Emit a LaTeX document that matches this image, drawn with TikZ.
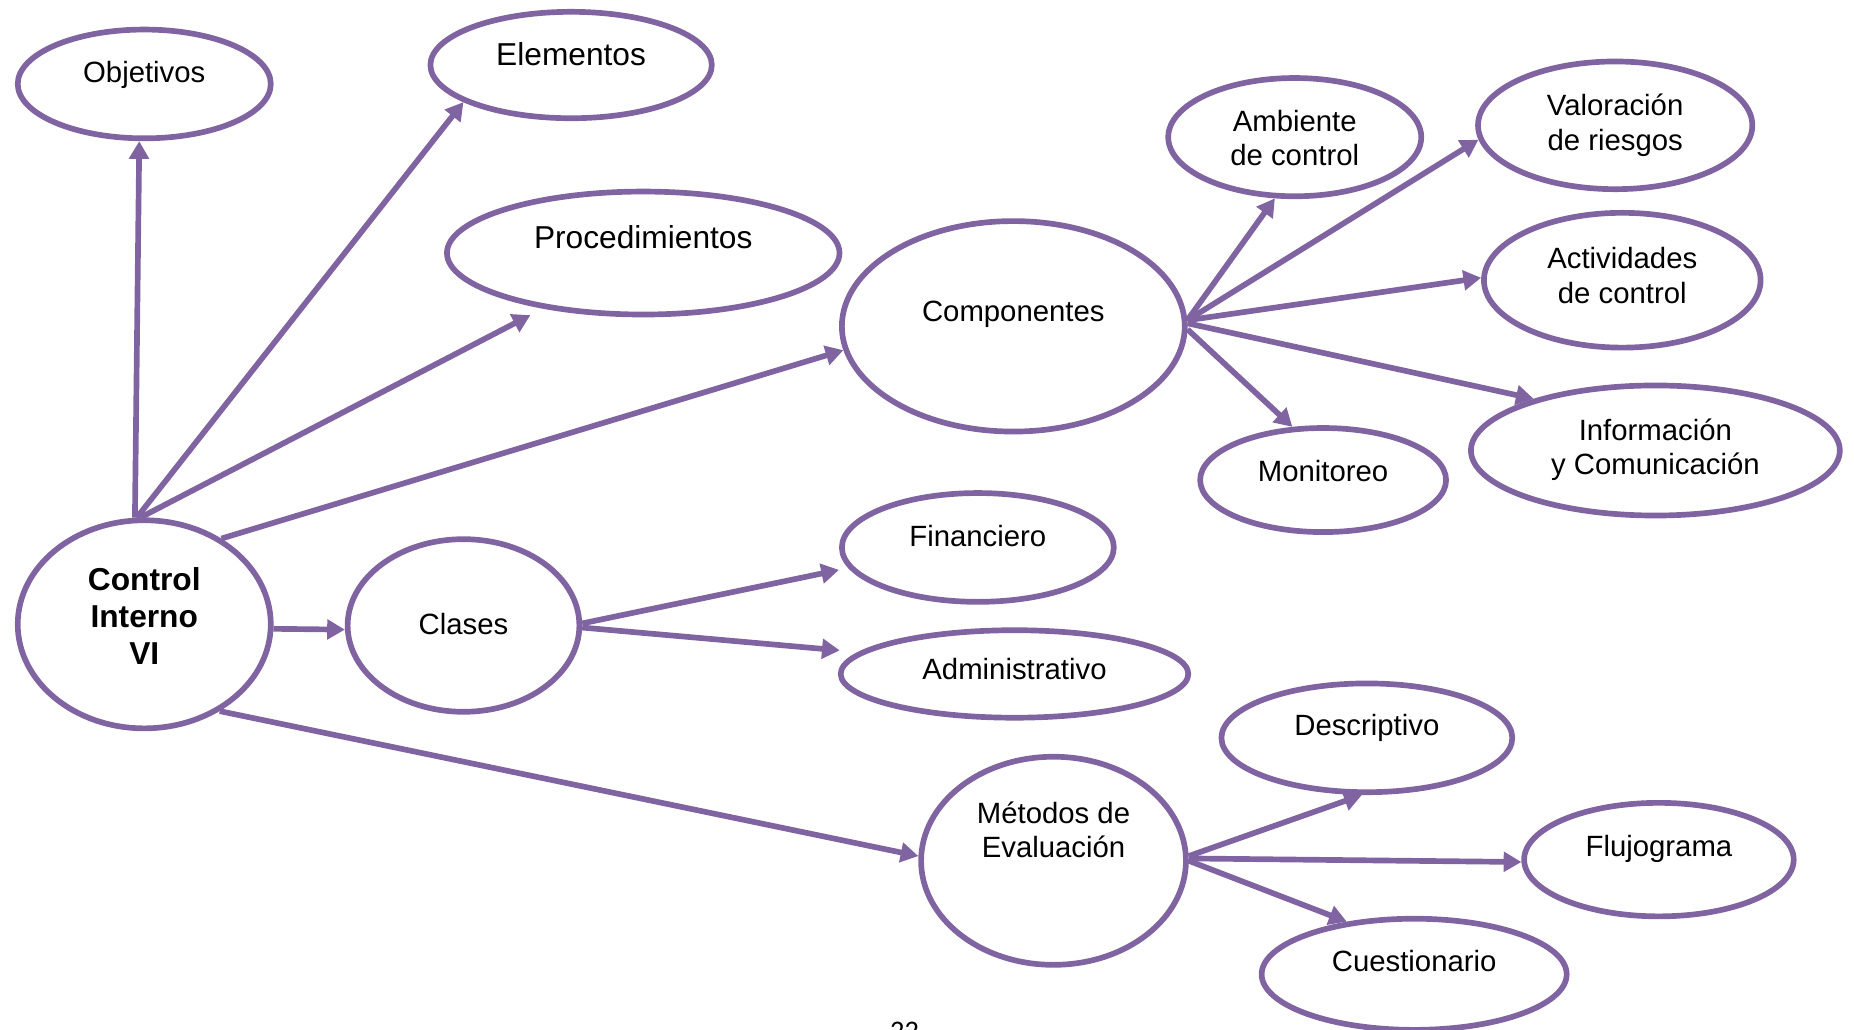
\documentclass[tikz,border=0pt]{standalone}
\usepackage{fontspec}
\setmainfont{Liberation Sans}
\newfontfamily\pagefont{Carlito}
\usetikzlibrary{arrows.meta,shapes.geometric}
\definecolor{pur}{HTML}{8064A2}
\begin{document}
\begin{tikzpicture}[x=0.5pt,y=-0.5pt,
  oval/.style 2 args={ellipse,draw=pur,line width=2.4pt,fill=white,minimum width=#1pt,minimum height=#2pt,inner sep=0pt},
  lbl/.style={font=\fontsize{12.4}{14.5}\selectfont,align=center,inner sep=0pt},
  big/.style={font=\fontsize{13.4}{15.5}\selectfont,align=center,inner sep=0pt},
  boldlbl/.style={font=\fontsize{13.4}{15.5}\selectfont\bfseries,align=center,inner sep=0pt},
  arr/.style={draw=pur,line width=2.4pt,-{Triangle[length=7.5pt,width=8.2pt]}}]
\useasboundingbox (0,0) rectangle (1568,871);

% nodes
\node[oval={107}{46},label={[lbl,yshift=4pt]center:Objetivos}] (obj) at (122,71) {};
\node[oval={119}{45},label={[big,yshift=4.5pt]center:Elementos}] (elem) at (483,55) {};
\node[oval={166}{52},label={[big,yshift=6.5pt]center:Procedimientos}] (proc) at (544,214) {};
\node[oval={145}{89},label={[lbl,yshift=5pt]center:Componentes}] (comp) at (857,276) {};
\node[oval={107}{50},label={[lbl,yshift=-0.5pt]center:{Ambiente\\de control}}] (amb) at (1095,116) {};
\node[oval={116}{54},label={[lbl,yshift=0pt]center:{Valoración\\de riesgos}}] (val) at (1366,106) {};
\node[oval={117}{57},label={[lbl,yshift=2pt]center:{Actividades\\de control}}] (act) at (1372,237) {};
\node[oval={156}{55},label={[lbl,yshift=0.3pt]center:{Información\\y Comunicación}}] (info) at (1400,381) {};
\node[oval={104}{44},label={[lbl,yshift=4pt]center:Monitoreo}] (mon) at (1119,406) {};
\node[oval={107}{88},label={[boldlbl,yshift=3.5pt]center:{Control\\Interno\\VI}}] (ctrl) at (122,528) {};
\node[oval={98}{73},label={[lbl,yshift=0.5pt]center:Clases}] (clases) at (392,529) {};
\node[oval={115}{46},label={[lbl,yshift=5pt]center:Financiero}] (fin) at (827,463) {};
\node[oval={147}{37},label={[lbl,yshift=2pt]center:Administrativo}] (adm) at (858,570) {};
\node[oval={112}{88},label={[lbl,yshift=13pt]center:{Métodos de\\Evaluación}}] (met) at (891,728) {};
\node[oval={123}{46},label={[lbl,yshift=4pt]center:Descriptivo}] (desc) at (1156,624) {};
\node[oval={114}{48},label={[lbl,yshift=4.5pt]center:Flujograma}] (flu) at (1403,727) {};
\node[oval={129}{47},label={[lbl,yshift=5.5pt]center:Cuestionario}] (cues) at (1196,824) {};
\node[font=\pagefont\fontsize{12}{14}\selectfont,anchor=base,inner sep=0pt] (pg) at (765,880) {22};

% connectors
\draw[arr] (ctrl.95) -- (obj.265);
\draw[arr] (ctrl.94) -- (elem.199);
\draw[arr,shorten >=6pt] (ctrl.92) -- (proc.209);
\draw[arr] (ctrl.48) -- (comp.188);
\draw[arr] (ctrl.-2) -- (clases.182);
\draw[arr] (ctrl.-49) -- (met.178);
\draw[arr,shorten >=4pt] (clases.1) -- (fin.189);
\draw[arr,shorten >=8pt] (clases.-1) -- (adm.172);
\draw[arr] (comp.2) -- (amb.252);
\draw[arr] (comp.2) -- (val.186);
\draw[arr] (comp.2) -- (act.179);
\draw[arr] (comp.1) -- (info.157);
\draw[arr] (comp.-1) -- (mon.120);
\draw[arr] (met.2) -- (desc.265);
\draw[arr] (met.1) -- (flu.181);
\draw[arr] (met.0) -- (cues.142);
\end{tikzpicture}
\end{document}
